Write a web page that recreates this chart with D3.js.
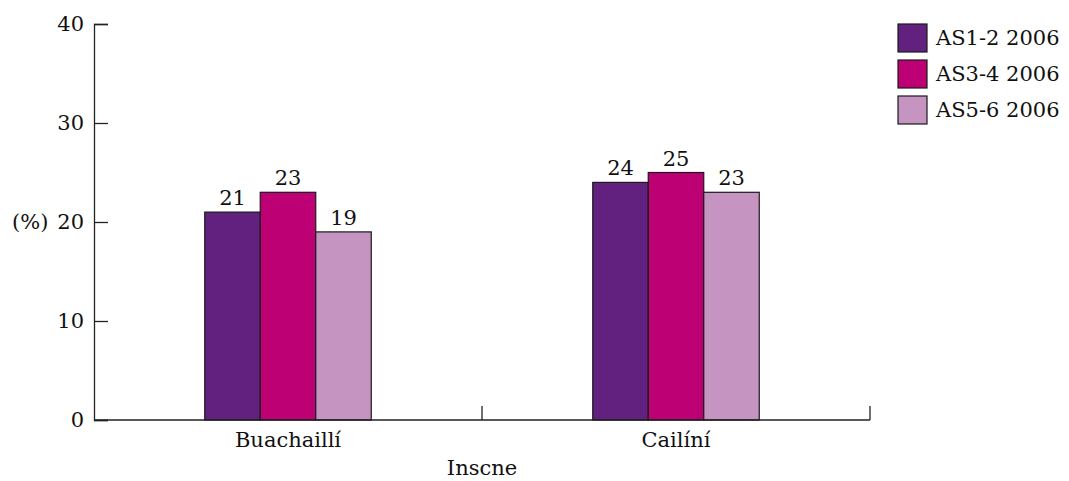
<!DOCTYPE html>
<html><head><meta charset="utf-8">
<script src="https://cdn.jsdelivr.net/npm/d3@7"></script>
<style>body{margin:0;background:#fff}svg text{font-family:"DejaVu Serif",serif;fill:#111}</style>
</head><body><svg id="c" width="1069" height="481"></svg>
<script>
const categories = ["Buachaillí", "Cailíní"];
const seriesNames = ["AS1-2 2006", "AS3-4 2006", "AS5-6 2006"];
const seriesColors = ["#62207f", "#bd0073", "#c594c1"];
const as12 = [21, 24];
const as34 = [23, 25];
const as56 = [19, 23];
const yTicks = [0, 10, 20, 30, 40];
const xTitle = "Inscne";
const yTitle = "(%)";

const series = [as12, as34, as56];
const svg = d3.select("#c");
const L = 94, R = 870, T = 24, B = 420;
const fs = 21;

const y = d3.scaleLinear().domain([0, 40]).range([B, T]);
const x0 = d3.scaleBand().domain(categories).range([L, R]);
const groupW = 166.5;
const x1 = d3.scaleBand().domain(seriesNames).range([0, groupW]);

// y axis
const ya = svg.append("g").attr("transform", `translate(${L},0)`)
  .call(d3.axisLeft(y).tickValues(yTicks).tickSize(-14).tickFormat(d3.format("d")));
ya.select(".domain").attr("stroke", "#222").attr("stroke-width", 1.3);
ya.selectAll(".tick line").attr("stroke", "#222").attr("stroke-width", 1.3);
ya.selectAll(".tick text").attr("font-size", fs).attr("font-family", "DejaVu Serif").attr("x", -10);

// bars
categories.forEach((c, i) => {
  const gx = x0(c) + (x0.bandwidth() - groupW) / 2;
  series.forEach((s, j) => {
    const bx = gx + x1(seriesNames[j]);
    svg.append("rect").attr("x", bx).attr("y", y(s[i])).attr("width", x1.bandwidth())
      .attr("height", y(0) - y(s[i])).attr("fill", seriesColors[j])
      .attr("stroke", "#1a1a1a").attr("stroke-width", 1.2);
    svg.append("text").attr("x", bx + x1.bandwidth() / 2).attr("y", y(s[i]) - 7)
      .attr("text-anchor", "middle").attr("font-size", fs).text(s[i]);
  });
});

// x axis
svg.append("line").attr("x1", L).attr("x2", R).attr("y1", B).attr("y2", B)
  .attr("stroke", "#222").attr("stroke-width", 1.3);
categories.forEach(c => {
  const xe = x0(c) + x0.bandwidth();
  svg.append("line").attr("x1", xe).attr("x2", xe).attr("y1", B).attr("y2", B - 14)
    .attr("stroke", "#222").attr("stroke-width", 1.3);
  svg.append("text").attr("x", x0(c) + x0.bandwidth() / 2).attr("y", B + 27)
    .attr("text-anchor", "middle").attr("font-size", fs).text(c);
});
svg.append("text").attr("x", (L + R) / 2).attr("y", B + 55).attr("text-anchor", "middle")
  .attr("font-size", fs).text(xTitle);
svg.append("text").attr("x", 12).attr("y", y(20)).attr("dy", "0.32em")
  .attr("font-size", fs).text(yTitle);

// legend
seriesNames.forEach((n, j) => {
  const ly = 24 + j * 36;
  svg.append("rect").attr("x", 898).attr("y", ly).attr("width", 29).attr("height", 28)
    .attr("fill", seriesColors[j]).attr("stroke", "#1a1a1a").attr("stroke-width", 1.2);
  svg.append("text").attr("x", 936).attr("y", ly + 14).attr("dy", "0.35em")
    .attr("font-size", fs).text(n);
});
</script></body></html>
